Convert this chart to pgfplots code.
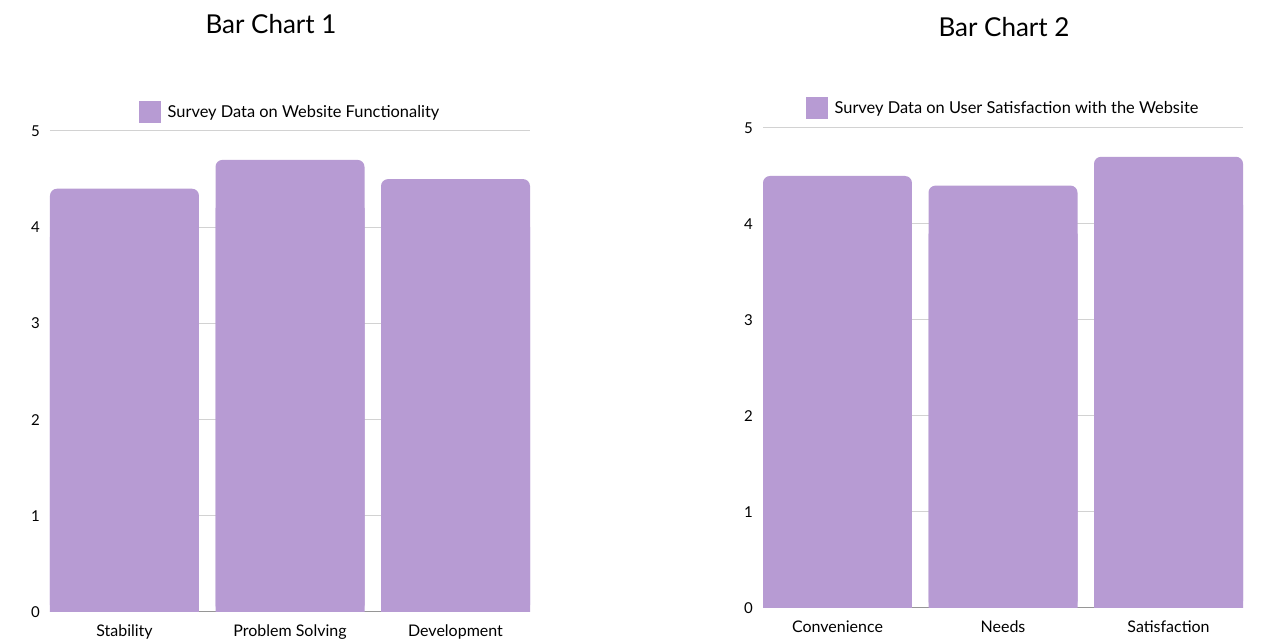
\documentclass[border=0pt]{standalone}
\usepackage{pgfplots}
\pgfplotsset{compat=1.18}
\usepackage{pgfplotstable}
\usepackage{fontspec}
\setmainfont{Lato}
\definecolor{barc}{RGB}{183,155,211}
\definecolor{gridc}{RGB}{210,210,210}
\definecolor{basec}{RGB}{150,150,150}

\pgfplotstableread{
x v
0 4.4
1 4.7
2 4.5
}\dataA
\pgfplotstableread{
x v
0 4.5
1 4.4
2 4.7
}\dataB

\pgfplotsset{
 mystyle/.style={
  scale only axis, width=480pt,
  xmin=-0.45, xmax=2.45, ymin=0, ymax=5,
  ytick={1,2,3,4,5},
  ymajorgrids, grid style={draw=gridc, line width=1pt},
  extra y ticks={0},
  extra y tick style={grid style={draw=basec, line width=1pt}},
  axis line style={draw=none},
  major tick length=0pt,
  xtick={0,1,2},
  /pgf/number format/assume math mode=true,
  yticklabel style={font=\fontsize{15}{18}\selectfont, inner sep=0pt, xshift=-10pt},
  xticklabel style={font=\fontsize{16}{19}\selectfont, anchor=base, inner sep=0pt, yshift=-25pt},
  legend style={draw=none, fill=none, at={(0.5,1)}, anchor=center,
     font=\fontsize{16.4}{19}\selectfont, inner sep=0pt,
     /tikz/every odd column/.append style={column sep=5pt}},
  legend image code/.code={\fill[barc, sharp corners] (0pt,-11pt) rectangle (22pt,11pt);},
  title style={font=\fontsize{26}{31}\selectfont, at={(0.5,1)}, anchor=center},
 }
}

\begin{document}
\begin{tikzpicture}
\useasboundingbox (0,0) rectangle (1270pt,642pt);
\begin{axis}[mystyle, at={(50pt,30pt)}, anchor=south west, height=481pt,
  xticklabels={Stability,Problem Solving,Development},
  title={Bar Chart 1}, title style={yshift=101pt, xshift=-19pt},
  legend style={yshift=19pt}]
\addplot[ybar, bar shift=0pt, bar width=149pt, fill=barc, draw=none, rounded corners=7pt]
  table[x=x, y=v] {\dataA};
\addlegendentry{Survey Data on Website Functionality}
\addplot[ybar, bar shift=0pt, bar width=149pt, fill=barc, draw=none, forget plot]
  table[x=x, y expr=\thisrow{v}-0.5] {\dataA};
\end{axis}
\begin{axis}[mystyle, at={(763pt,34pt)}, anchor=south west, height=480pt,
  xticklabels={Convenience,Needs,Satisfaction},
  title={Bar Chart 2}, title style={yshift=95pt, xshift=1pt},
  legend style={yshift=20pt}]
\addplot[ybar, bar shift=0pt, bar width=149pt, fill=barc, draw=none, rounded corners=7pt]
  table[x=x, y=v] {\dataB};
\addlegendentry{Survey Data on User Satisfaction with the Website}
\addplot[ybar, bar shift=0pt, bar width=149pt, fill=barc, draw=none, forget plot]
  table[x=x, y expr=\thisrow{v}-0.5] {\dataB};
\end{axis}
\end{tikzpicture}
\end{document}
